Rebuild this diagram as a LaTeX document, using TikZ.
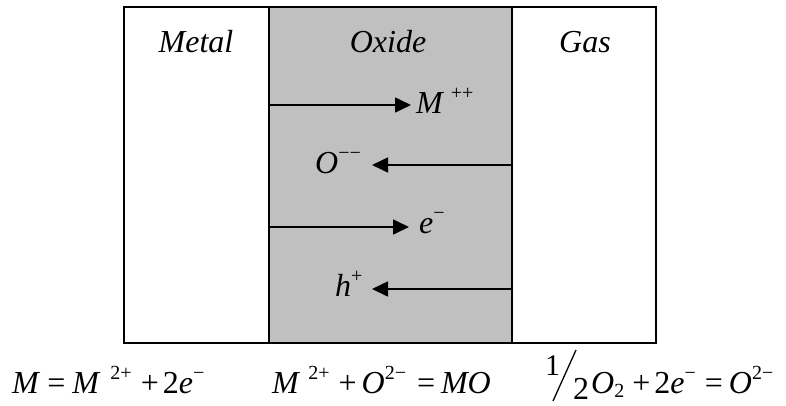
\documentclass[tikz,border=0pt]{standalone}
\usepackage{fontspec}
\setmainfont{Liberation Serif}
\usetikzlibrary{arrows.meta}
\newcommand\spx[1]{\raisebox{0.42em}{\fontsize{20}{20}\selectfont #1}}
\newcommand\sbx[1]{\raisebox{-0.14em}{\fontsize{20}{20}\selectfont #1}}
\begin{document}
\begin{tikzpicture}[x=1pt,y=-1pt,
  lbl/.style={font=\fontsize{32}{36}\selectfont\itshape, inner sep=0pt, anchor=base},
  eqn/.style={font=\fontsize{32}{36}\selectfont, inner sep=0pt, anchor=base west},
  flux/.style={line width=1.6pt, -{Triangle[length=16pt,width=15pt]}},
  wall/.style={line width=2pt}]
\useasboundingbox (0,0) rectangle (786,405);
\fill[fill={rgb,255:red,192;green,192;blue,192}] (269,7) rectangle (512,343);
\draw[wall] (124,7) rectangle (656,343);
\draw[wall] (269,7) -- (269,343);
\draw[wall] (512,7) -- (512,343);
\node[lbl] (metal) at (196,52) {Metal};
\node[lbl] (oxide) at (388,52) {Oxide};
\node[lbl] (gas) at (585,52) {Gas};
% arrows
\coordinate (a1s) at (269,105); \coordinate (a1e) at (411,105);
\coordinate (a2s) at (512,165); \coordinate (a2e) at (372,165);
\coordinate (a3s) at (269,227); \coordinate (a3e) at (409,227);
\coordinate (a4s) at (512,289); \coordinate (a4e) at (372,289);
\draw[flux] (a1s) -- (a1e);
\draw[flux] (a2s) -- (a2e);
\draw[flux] (a3s) -- (a3e);
\draw[flux] (a4s) -- (a4e);
\node[lbl, anchor=base west] (mpp) at (416,113) {\textit{M}\hspace{8pt}\spx{\upshape ++}};
\node[lbl, anchor=base west] (omm) at (315,173) {\textit{O}\spx{\upshape −−}};
\node[lbl, anchor=base west] (em) at (419,233) {\textit{e}\spx{\upshape −}};
\node[lbl, anchor=base west] (hp) at (335,296) {\textit{h}\spx{\upshape +}};
% equations
\node[eqn] (eq1) at (12,393) {\textit{M}\hspace{7pt}=\hspace{7pt}\textit{M}\hspace{10pt}\spx{2+}\hspace{9pt}+\hspace{4pt}2\textit{e}\spx{−}};
\node[eqn] (eq2) at (272,393) {\textit{M}\hspace{8pt}\spx{2+}\hspace{9pt}+\hspace{5pt}\textit{O}\spx{2−}\hspace{11pt}=\hspace{6pt}\textit{MO}};
\node[eqn, font=\fontsize{30}{30}\selectfont] (h1) at (545,375) {1};
\coordinate (s1) at (553,401); \coordinate (s2) at (576,350);
\draw[line width=1.3pt] (s1) -- (s2);
\node[eqn] (h2) at (573,399) {2};
\node[eqn] (eq3) at (591,393) {\textit{O}\sbx{2}\hspace{8pt}+\hspace{4pt}2\textit{e}\spx{−}\hspace{9pt}=\hspace{6pt}\textit{O}\spx{2−}};
\end{tikzpicture}
\end{document}
